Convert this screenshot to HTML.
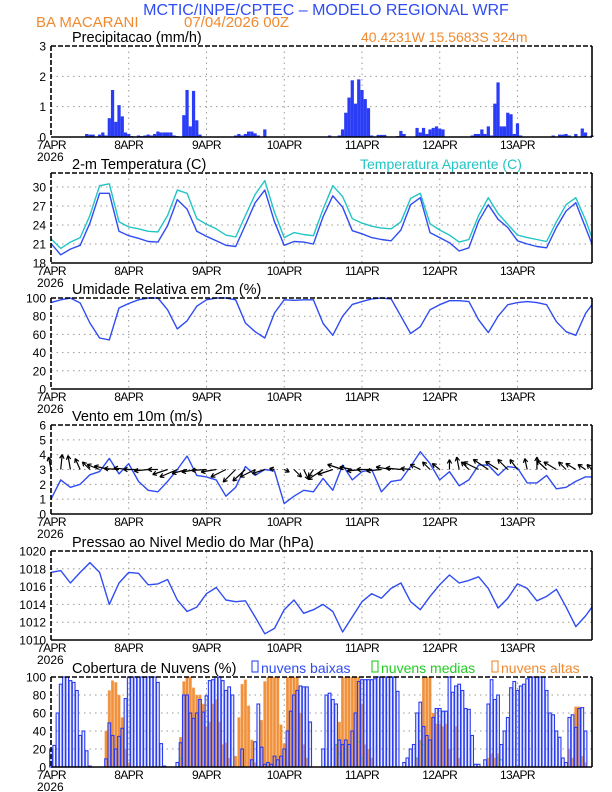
<!DOCTYPE html>
<html><head><meta charset="utf-8">
<style>
html,body{margin:0;padding:0;background:#fff;}
svg{display:block;font-family:"Liberation Sans",sans-serif;}
</style></head>
<body>
<svg id="chart" width="612" height="792" viewBox="0 0 612 792" xmlns="http://www.w3.org/2000/svg">
<text x="326" y="15" text-anchor="middle" font-size="16" fill="#2f4cf2">MCTIC/INPE/CPTEC – MODELO REGIONAL WRF</text>
<text x="36" y="27" font-size="15" fill="#f08a30">BA MACARANI</text>
<text x="184" y="27" font-size="15" fill="#f08a30">07/04/2026 00Z</text>
<text x="361" y="42" font-size="14" fill="#f08a30">40.4231W 15.5683S 324m</text>
<g id="plots"></g>
</svg>
<script>
// ---------- data ----------
const days = ["7APR","8APR","9APR","10APR","11APR","12APR","13APR"];
const precip = [0,0,0,0,0,0,0,0,0,0,0,.1,.08,.08,0,.08,.15,.05,.62,1.55,.5,1.05,.68,.15,
.1,.03,0,.05,.03,.05,.08,.05,.1,.18,.15,.15,.15,.15,.05,.03,0,.72,1.55,.35,1.52,.55,.08,0,
0,0,0,0,0,0,0,0,0,.05,.1,.05,.1,.18,.18,.12,.05,0,.25,0,0,0,0,0,
0,0,0,0,0,0,0,0,0,0,0,0,0,0,.05,0,0,.05,.25,.8,1.3,1.87,1.1,1.9,
1.55,1.25,.95,.05,0,.07,.07,.07,0,0,0,.03,.2,.1,0,0,0,.3,.15,.3,.1,.25,.3,.35,
.28,.25,0,0,0,0,0,0,0,0,.05,.1,.1,.25,.1,.35,.05,1.1,1.8,.35,.35,.8,.75,.1,
.45,.05,0,0,0,0,0,0,0,0,0,.05,0,.08,.08,.1,.05,0,.1,0,.28,.15,0,.05];
const lineHours = [0,3,6,9,12,15,18,21,24,27,30,33,36,39,42,45,48,51,54,57,60,63,66,69,72,75,78,81,84,87,90,93,96,99,102,105,108,111,114,117,120,123,126,129,132,135,138,141,144,147,150,153,156,159,162,165,167];
const temp = [21.1,19.3,20.2,20.8,24.3,29.0,29.0,23.0,22.3,21.9,21.4,21.3,23.9,28.0,26.5,23.0,22.2,21.5,20.8,20.6,24.0,27.5,29.5,24.5,20.8,21.4,21.3,21.0,25.3,28.6,26.8,23.1,22.6,22.0,21.7,21.5,23.2,27.2,28.3,22.8,22.0,21.2,19.9,20.4,24.6,27.2,24.9,23.6,21.5,21.0,20.6,20.4,23.6,26.2,27.5,23.6,21.0];
const tempApp = [21.8,20.3,21.3,22.0,25.5,30.2,30.5,24.5,23.7,23.4,23.0,22.9,25.5,29.5,29.0,25.0,24.1,23.4,22.4,22.1,25.5,28.8,31.0,26.0,22.0,22.8,22.5,22.3,26.5,30.2,28.5,25.0,24.3,23.8,23.5,23.4,24.5,28.2,29.0,24.2,23.2,22.4,21.3,21.7,25.5,28.3,25.8,24.1,22.4,22.0,21.7,21.4,24.5,27.2,28.3,24.8,22.0];
const rh = [95,98,100,94.5,72.5,56,54,89,94,98,100,100,87,66,75,91,98,100,100,98,72.5,63,56,83.5,98,97.5,98,98,72,59,80,93,96,99,100,99,80,61,68.5,87,92.6,97,97,96,76,62,80,92.6,95,96,95,92.6,74,63,59,83,92.6];
const windSpd = [1.0,2.3,1.8,2.0,2.64,2.86,3.75,2.7,3.4,2.2,1.6,1.5,2.2,3.0,3.9,2.6,2.5,2.3,1.2,1.8,3.2,2.6,3.0,2.9,0.7,1.2,1.6,1.5,2.4,1.6,3.3,2.3,2.85,3.0,1.5,2.2,2.3,3.2,4.2,3.4,2.3,2.85,1.9,2.3,3.3,3.3,2.6,3.2,3.1,2.1,2.1,2.6,1.7,1.8,2.2,2.5,2.5];
const windU = [-0.5,0.3,-0.5,-1,-1.5,-2.5,-3,-3,-3,-3,-2.8,-2,-3,-3.5,-3,-3,-3,-3,-3,-2.5,-2.5,-3,-2.5,-1,1,1.5,1,-1,-3,-3,-3,-2.5,-3,-3,-3,-3,-3,-2,-2,-1.5,-1.5,0,-0.5,-1.5,-3,-3,-2.5,-2,-1.5,-0.5,0,-2,-2.5,-1.5,-2,-1.5,-1];
const windV = [2.5,3,2.8,2.2,1.5,1,0.7,0.2,0.3,0,-0.3,0,-1,-1.5,-0.8,-0.5,-0.2,-0.5,-1.5,-2.5,-2.3,-1.5,-0.8,0.2,-0.5,-1.5,-2,-1.5,-2,-1,1,0.5,-0.3,0,-0.3,0.5,0.3,0.2,1,1.5,1.2,2,2.5,1.5,1.5,2,1.6,2,2,2.2,2.5,1.8,1.5,1.5,1.2,1,1];
const pres = [1017.6,1017.8,1016.4,1017.6,1018.7,1017.6,1014.0,1016.4,1017.6,1017.5,1016.2,1016.3,1016.8,1014.5,1013.2,1013.7,1015.2,1015.9,1014.5,1014.3,1014.4,1012.6,1010.7,1011.3,1013.4,1014.5,1013.0,1013.4,1014.0,1013.2,1010.9,1012.6,1014.3,1015.2,1014.7,1015.8,1016.4,1014.3,1013.4,1014.9,1016.2,1017.3,1016.4,1016.7,1017.1,1015.8,1013.6,1014.7,1016.3,1015.8,1014.4,1014.9,1015.7,1013.7,1011.5,1012.7,1013.7];
const cloudLow = [20,24,60,92,100,100,96,94,85,35,40,18,1,0,0,0,0,9,49,35,20,34,43,76,
100,100,100,100,100,100,100,100,100,94,26,1,0,0,0,5,27,80,80,60,54,60,75,61,
79,96,97,100,100,96,85,89,80,0,0,20,0,0,8,28,70,22,3,5,3,12,8,12,
20,40,62,80,85,90,89,89,50,0,0,0,20,80,82,75,70,30,25,30,25,40,60,95,
97,97,97,97,98,100,100,100,100,100,100,84,0,5,10,20,25,60,72,45,35,30,55,65,
65,62,62,100,83,90,92,85,65,64,35,3,3,0,8,70,97,75,80,25,40,55,88,95,
85,90,92,98,100,100,100,100,100,85,60,58,40,33,10,5,55,58,44,65,66,40,0,0];
const cloudHigh = [0,0,0,0,0,0,0,0,0,0,0,0,0,0,0,0,0,40,85,96,94,80,55,20,
5,0,0,0,0,0,0,0,0,0,0,0,0,0,0,0,33,95,100,100,88,80,80,70,
45,50,70,75,50,25,27,10,0,12,55,92,97,68,30,5,0,52,95,100,100,100,100,47,
26,100,100,100,100,60,25,10,0,0,0,0,0,0,0,0,25,50,100,100,100,100,100,100,
70,25,20,10,0,0,0,0,0,0,0,0,0,0,0,0,0,10,30,100,100,100,60,48,
48,45,48,20,0,45,10,0,0,0,0,0,0,0,0,10,15,10,15,0,0,0,0,0,
0,0,0,0,0,0,0,0,0,0,0,0,0,0,0,0,20,10,67,67,12,5,0,0];
const cloudMid = [0,0,0,0,0,0,0,0,0,0,0,0,0,0,0,0,0,0,0,0,0,0,0,0,
0,0,0,0,0,0,0,0,0,0,0,0,0,0,0,0,10,0,0,0,0,0,0,0,
0,0,0,0,0,0,0,0,0,0,0,0,0,0,0,0,0,0,0,0,0,0,0,0,
0,0,0,0,0,0,0,0,0,0,0,0,0,0,0,0,25,15,25,20,0,0,0,28,
10,0,0,0,0,0,0,0,0,0,0,0,0,0,0,0,0,10,28,25,0,0,0,0,
0,0,0,0,0,0,0,0,0,0,0,0,0,0,0,0,0,0,10,8,0,0,0,0,
0,0,0,0,0,0,0,0,0,0,0,0,0,0,0,0,0,0,0,0,0,0,0,0];

// ---------- layout ----------
const NS = "http://www.w3.org/2000/svg";
const X0 = 51, X1 = 592, NH = 167;
const xh = h => X0 + h * (X1 - X0) / NH;
const root = document.getElementById("plots");
function mk(tag, attrs, parent) {
  const e = document.createElementNS(NS, tag);
  for (const k in attrs) e.setAttribute(k, attrs[k]);
  (parent || root).appendChild(e);
  return e;
}
const BLUE = "#2f4cf2";

function panel(name, top, bot, ymin, ymax, ticks, title, tlx) {
  const g = mk("g", {});
  
  
  const y = v => bot - (v - ymin) / (ymax - ymin) * (bot - top);
  // grid
  ticks.forEach(t => {
    if (t > ymin && t < ymax) {
      const l = mk("line", {x1: X0, x2: X1, y1: y(t), y2: y(t), stroke: "#999", "stroke-width": 1, "stroke-dasharray": "1.5,4"}, g);
      
      
    }
    const tx = mk("text", {x: 46, y: y(t) + 4.5, "text-anchor": "end", "font-size": 12, fill: "#000"}, g);
    
    
    tx.textContent = t;
  });
  days.forEach((d, i) => {
    const xx = xh(i * 24);
    if (i > 0) {
      const l = mk("line", {x1: xx, x2: xx, y1: top, y2: bot, stroke: "#999", "stroke-width": 1, "stroke-dasharray": "1.5,4"}, g);
      
      
    }
    const tx = mk("text", {x: i === 0 ? xx - 14 : xx, y: bot + 12, "text-anchor": i === 0 ? "start" : "middle", "font-size": 12, fill: "#000", "letter-spacing": "-0.6"}, g);
    
    
    tx.textContent = d;
  });
  const yr = mk("text", {x: 37, y: bot + 24, "font-size": 12, fill: "#000"}, g);
  
  
  yr.textContent = "2026";
  const tt = mk("text", {x: tlx || 72, y: top - 4, "font-size": 14.5, fill: "#000"}, g);
  
  
  tt.textContent = title;
  return {g, y, top, bot};
}
function frame(p, name) {
  const f = mk("g", {}, p.g);
  
  
  mk("line", {x1: X0, x2: X1, y1: p.top, y2: p.top, stroke: "#000", "stroke-width": 1.6, "stroke-dasharray": "5,2"}, f);
  mk("line", {x1: X0, x2: X0, y1: p.top, y2: p.bot, stroke: "#000", "stroke-width": 1.6, "stroke-dasharray": "5,2"}, f);
  mk("line", {x1: X1, x2: X1, y1: p.top, y2: p.bot, stroke: "#000", "stroke-width": 1.6}, f);
  mk("line", {x1: X0, x2: X1, y1: p.bot, y2: p.bot, stroke: "#000", "stroke-width": 1.6}, f);
}
function line(p, name, vals, color) {
  const pts = vals.map((v, i) => xh(lineHours[i]).toFixed(1) + "," + p.y(v).toFixed(1)).join(" ");
  const pl = mk("polyline", {points: pts, fill: "none", stroke: color, "stroke-width": 1.4, "stroke-linejoin": "round"}, p.g);
  
  
}
const bw = (X1 - X0) / NH;

// Precip
const p1 = panel("precip", 46, 137, 0, 3, [0,1,2,3], "Precipitacao (mm/h)");
precip.forEach((v, h) => {
  if (v <= 0) return;
  const r = mk("rect", {x: xh(h) - bw / 2, y: p1.y(v), width: bw, height: p1.bot - p1.y(v), fill: "#2a3cf5"}, p1.g);
  
  
});
frame(p1, "precip");

// Temperature
const p2 = panel("temp", 173, 263, 18, 32.2, [18,21,24,27,30], "2-m Temperatura (C)");
const lt = mk("text", {x: 360, y: 169, "font-size": 14, fill: "#22c4c4"}, p2.g);


lt.textContent = "Temperatura Aparente (C)";
line(p2, "apparent-temp-line", tempApp, "#22c4c4");
line(p2, "temp-line", temp, BLUE);
frame(p2, "temp");

// RH
const p3 = panel("rh", 298, 389, 0, 100, [0,20,40,60,80,100], "Umidade Relativa em 2m (%)");
line(p3, "rh-line", rh, BLUE);
frame(p3, "rh");

// Wind
const p4 = panel("wind", 425, 514, 0, 6, [0,1,2,3,4,5,6], "Vento em 10m (m/s)");
line(p4, "wind-speed-line", windSpd, BLUE);
const base = p4.y(3), sc = 5;
windU.forEach((u, i) => {
  const x0 = xh(lineHours[i]);
  const dx = u * sc, dy = -windV[i] * sc;
  const len = Math.hypot(dx, dy) || 1;
  const ux = dx / len, uy = dy / len;
  const tx = x0 + dx, ty = base + dy;
  const a = mk("path", {d: `M${x0},${base}L${tx},${ty}M${tx},${ty}L${tx - ux*4 - uy*2.2},${ty - uy*4 + ux*2.2}M${tx},${ty}L${tx - ux*4 + uy*2.2},${ty - uy*4 - ux*2.2}`, stroke: "#000", "stroke-width": 1.2, fill: "none"}, p4.g);
  
  
});
frame(p4, "wind");

// Pressure
const p5 = panel("pressure", 551, 640, 1010, 1020, [1010,1012,1014,1016,1018,1020], "Pressao ao Nivel Medio do Mar (hPa)");
line(p5, "pressure-line", pres, BLUE);
frame(p5, "pressure");

// Clouds
const p6 = panel("clouds", 677, 767, 0, 100, [0,20,40,60,80,100], "Cobertura de Nuvens (%)");
cloudHigh.forEach((v, h) => {
  if (v <= 0) return;
  const r = mk("rect", {x: xh(h) - bw * 0.4, y: p6.y(v), width: bw * 0.8, height: p6.bot - p6.y(v), fill: "#f0903a", stroke: "#f6b070", "stroke-width": 0.5}, p6.g);
  
  
});
cloudMid.forEach((v, h) => {
  if (v <= 0) return;
  const r = mk("rect", {x: xh(h) - bw * 0.4, y: p6.y(v), width: bw * 0.8, height: p6.bot - p6.y(v), fill: "none", stroke: "#22cc22", "stroke-width": 1.1}, p6.g);
  
  
});
cloudLow.forEach((v, h) => {
  if (v <= 0) return;
  const r = mk("rect", {x: xh(h) - bw * 0.42, y: p6.y(v), width: bw * 0.84, height: p6.bot - p6.y(v), fill: "rgba(190,200,255,0.3)", stroke: "#2b3cf0", "stroke-width": 1.1}, p6.g);
  
  
});
frame(p6, "clouds");
const legend = [["nuvens baixas", BLUE, 252], ["nuvens medias", "#22cc22", 372], ["nuvens altas", "#f08a30", 492]];
legend.forEach(([lab, col, lx]) => {
  const g = mk("g", {}, p6.g);
  
  
  mk("rect", {x: lx, y: 661, width: 6, height: 11, fill: "none", stroke: col, "stroke-width": 1.1}, g);
  const t = mk("text", {x: lx + 9, y: 673, "font-size": 14, fill: col}, g);
  t.textContent = lab;
});
</script>
</body></html>
